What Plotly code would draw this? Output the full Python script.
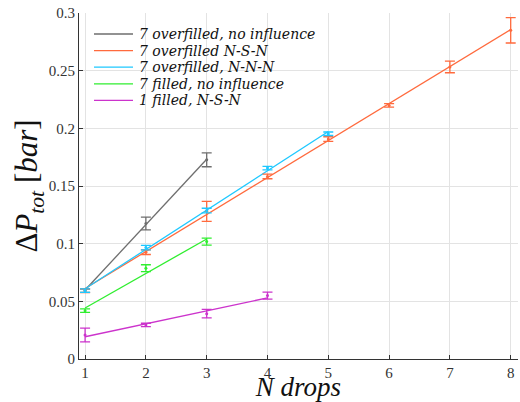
import numpy as np
import plotly.graph_objects as go

# ---- data ----
names = ["7 overfilled, no influence", "7 overfilled N-S-N", "7 overfilled, N-N-N",
         "7 filled, no influence", "1 filled, N-S-N"]
colors = ["#6e6e6e", "#ff6a3d", "#1ec8ff", "#2fee2f", "#cc33cc"]

x_gray = [1, 2, 3]
y_gray = [0.0593, 0.1175, 0.1727]
e_gray = [0.0015, 0.0055, 0.006]

x_orange = [1, 2, 3, 4, 5, 6, 7, 8]
y_orange = [0.0590, 0.0926, 0.1280, 0.1583, 0.1907, 0.2199, 0.2532, 0.2850]
e_orange = [0.0015, 0.002, 0.0087, 0.002, 0.002, 0.0015, 0.005, 0.011]

x_cyan = [1, 2, 3, 4, 5]
y_cyan = [0.0593, 0.0966, 0.1287, 0.1655, 0.1953]
e_cyan = [0.0015, 0.002, 0.002, 0.0015, 0.0015]

x_green = [1, 2, 3]
y_green = [0.0419, 0.0787, 0.1018]
e_green = [0.0015, 0.003, 0.003]

x_mag = [1, 2, 3, 4]
y_mag = [0.0208, 0.0295, 0.0393, 0.0550]
e_mag = [0.006, 0.0015, 0.0037, 0.003]

x_ticks = [1, 2, 3, 4, 5, 6, 7, 8]
y_ticks = [0, 0.05, 0.1, 0.15, 0.2, 0.25, 0.3]
y_ticklabels = ["0", "0.05", "0.1", "0.15", "0.2", "0.25", "0.3"]

series = [
    (x_gray, y_gray, e_gray),
    (x_orange, y_orange, e_orange),
    (x_cyan, y_cyan, e_cyan),
    (x_green, y_green, e_green),
    (x_mag, y_mag, e_mag),
]

# geometry (page body margin is removed in post_script, so figure = window)
W, H = 520, 402
ML, MR, MT, MB = 79, 2, 13, 43
PW, PH = W - ML - MR, H - MT - MB

fig = go.Figure()

# fit lines
for (xs, ys, es), name, c in zip(series, names, colors):
    xa = np.array(xs, dtype=float)
    p = np.polyfit(xa, np.array(ys), 1)
    xf = np.array([xa.min(), xa.max()])
    fig.add_trace(go.Scatter(x=xf, y=np.polyval(p, xf), mode="lines",
                             line=dict(color=c, width=1.3), name=name,
                             showlegend=False, hoverinfo="skip"))

# data points with error bars
for (xs, ys, es), name, c in zip(series, names, colors):
    fig.add_trace(go.Scatter(x=xs, y=ys, mode="markers",
                             marker=dict(color=c, size=3),
                             error_y=dict(type="data", array=es, visible=True,
                                          color=c, thickness=1.3, width=5),
                             showlegend=False, name=name))

# custom legend (line sample + italic text), positions in window px
leg_x0, leg_x1, leg_tx = 94, 133, 137
leg_y0, leg_dy = 34, 16.6


def px2paper_x(px):
    return (px - ML) / PW


def px2paper_y(py):
    return 1 - (py - MT) / PH


for i, (name, c) in enumerate(zip(names, colors)):
    yp = px2paper_y(leg_y0 + i * leg_dy)
    fig.add_shape(type="line", xref="paper", yref="paper",
                  x0=px2paper_x(leg_x0), x1=px2paper_x(leg_x1), y0=yp, y1=yp,
                  line=dict(color=c, width=1.3))
    fig.add_annotation(xref="paper", yref="paper", x=px2paper_x(leg_tx), y=yp,
                       xanchor="left", yanchor="middle", showarrow=False,
                       text=name,
                       font=dict(family="DejaVu Serif", size=14, color="#111111",
                                 style="italic"))

tick_font = dict(family="Liberation Serif", size=15, color="#333333")

fig.update_layout(
    width=W, height=H,
    margin=dict(l=ML, r=MR, t=MT, b=MB),
    paper_bgcolor="white", plot_bgcolor="white",
    showlegend=False,
    xaxis=dict(range=[0.9, 8.12], tickvals=x_ticks, ticktext=[str(v) for v in x_ticks],
               automargin=False, ticklabeloverflow="allow",
               showgrid=True, gridcolor="#e3e3e3", gridwidth=1,
               zeroline=False, showline=True, linecolor="#333333", linewidth=1,
               ticks="inside", ticklen=4, tickcolor="#333333", tickfont=tick_font,
               title=dict(text="<i>N drops</i>",
                          font=dict(family="Liberation Serif", size=27, color="#111111"),
                          standoff=3)),
    yaxis=dict(range=[0, 0.3], tickvals=y_ticks, ticktext=y_ticklabels,
               automargin=False, ticklabeloverflow="allow",
               showgrid=True, gridcolor="#e3e3e3", gridwidth=1,
               zeroline=False, showline=True, linecolor="#333333", linewidth=1,
               ticks="inside", ticklen=4, tickcolor="#333333", tickfont=tick_font,
               title=dict(text="Δ<i>P</i><sub><i>tot</i></sub> [<i>bar</i>]",
                          font=dict(family="Liberation Serif", size=31, color="#111111"),
                          standoff=0)),
)

fig.write_html("out.html",
               config={"displayModeBar": False},
               post_script="document.body.style.margin='0';document.body.style.overflow='hidden';")
